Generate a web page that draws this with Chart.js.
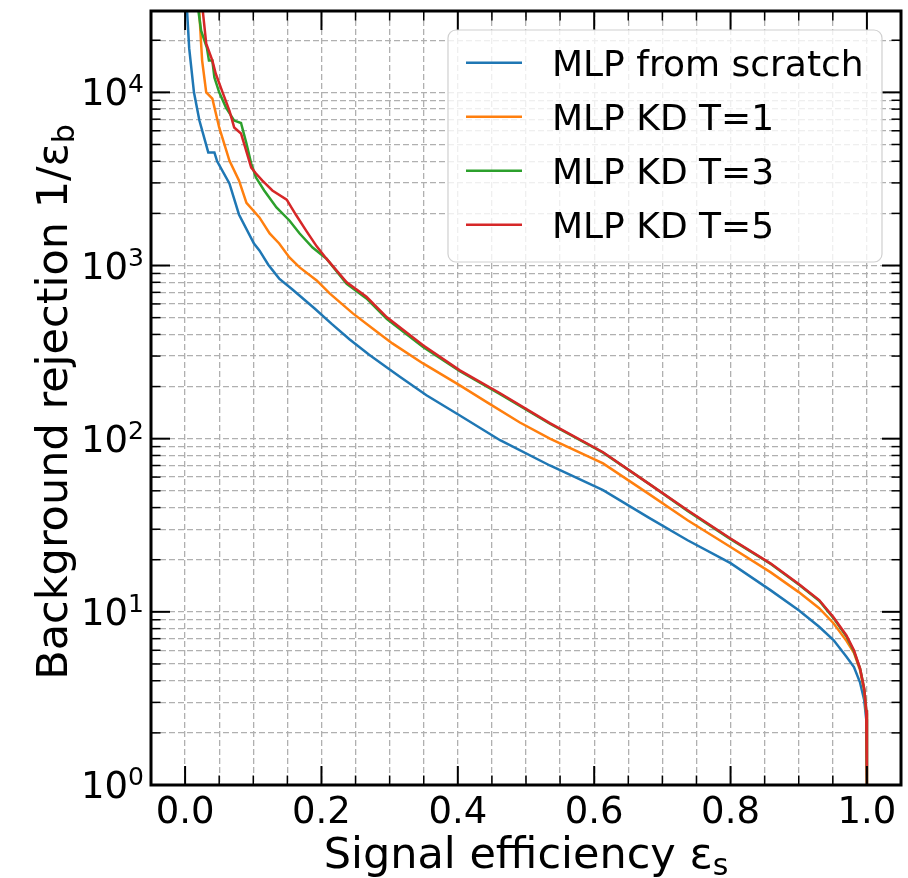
<!DOCTYPE html>
<html><head><meta charset="utf-8">
<script src="https://cdn.jsdelivr.net/npm/chart.js@4.4.1/dist/chart.umd.min.js"></script>
<style>html,body{margin:0;padding:0;background:#fff;}</style>
</head><body>
<canvas id="c" width="908" height="878"></canvas>
<script>
// ---- data ----
const seriesLabels = ["MLP from scratch", "MLP KD T=1", "MLP KD T=3", "MLP KD T=5"];
const seriesColors = ["#1f77b4", "#ff7f0e", "#2ca02c", "#d62728"];

const blueX = [0.001, 0.006, 0.013, 0.021, 0.034, 0.043, 0.047, 0.065, 0.079, 0.101, 0.109, 0.122, 0.138, 0.157, 0.19, 0.215, 0.241, 0.27, 0.296, 0.315, 0.354, 0.403, 0.462, 0.535, 0.613, 0.68, 0.737, 0.80, 0.859, 0.9, 0.93, 0.951, 0.97, 0.981, 0.99, 0.996, 0.999, 1.0];
const blueY = [40000, 18000, 10000, 6870, 4500, 4500, 4000, 2980, 1972, 1341, 1222, 1010, 840, 730, 565, 460, 375, 305, 258, 228, 178, 136, 98, 70, 50.4, 35, 25.9, 19.1, 13.3, 10.2, 8.2, 6.87, 5.5, 4.8, 3.9, 3.1, 2.4, 1];

const orangeX = [0.019, 0.0235, 0.025, 0.031, 0.04, 0.05, 0.065, 0.079, 0.09, 0.109, 0.124, 0.138, 0.153, 0.168, 0.193, 0.212, 0.246, 0.275, 0.304, 0.349, 0.403, 0.443, 0.491, 0.535, 0.613, 0.68, 0.737, 0.80, 0.859, 0.9, 0.93, 0.951, 0.97, 0.981, 0.99, 0.996, 0.999, 1.0];
const orangeY = [40000, 19100, 15250, 10000, 9200, 6270, 4040, 3100, 2300, 1896, 1531, 1341, 1114, 975, 820, 690, 529, 433, 355, 272, 203, 162, 124, 100, 72, 48, 33.8, 23.7, 16.9, 13.0, 10.5, 8.6, 6.8, 5.8, 4.6, 3.5, 2.6, 1];

const greenX = [0.017, 0.0235, 0.032, 0.035, 0.04, 0.043, 0.05, 0.06, 0.072, 0.082, 0.09, 0.097, 0.104, 0.116, 0.134, 0.153, 0.168, 0.187, 0.207, 0.237, 0.266, 0.296, 0.349, 0.403, 0.462, 0.535, 0.613, 0.68, 0.737, 0.80, 0.859, 0.9, 0.93, 0.951, 0.97, 0.981, 0.99, 0.996, 0.999, 1.0];
const greenY = [35000, 22700, 18100, 15250, 15250, 12200, 10000, 8170, 6870, 6650, 5070, 3880, 3220, 2713, 2163, 1820, 1531, 1271, 1099, 785, 645, 490, 338, 245, 181, 122, 83, 55, 38.3, 26.3, 18.9, 14.4, 11.6, 9.2, 7.2, 5.9, 4.7, 3.6, 2.7, 1];

const redX = [0.024, 0.031, 0.04, 0.045, 0.055, 0.065, 0.072, 0.082, 0.097, 0.104, 0.113, 0.128, 0.149, 0.163, 0.178, 0.193, 0.207, 0.237, 0.266, 0.296, 0.349, 0.403, 0.462, 0.535, 0.613, 0.68, 0.737, 0.80, 0.859, 0.9, 0.93, 0.951, 0.97, 0.981, 0.99, 0.996, 0.999, 1.0];
const redY = [35000, 19100, 15250, 12800, 10000, 7850, 6270, 5790, 3680, 3400, 3100, 2713, 2400, 1950, 1580, 1290, 1099, 800, 660, 502, 346, 248, 183, 123, 83.5, 55, 38.6, 26.5, 19.0, 14.5, 11.7, 9.3, 7.3, 6.0, 4.7, 3.6, 2.7, 1];

// axis ticks
const xMajorTicks = [0.0, 0.2, 0.4, 0.6, 0.8, 1.0];
const xTickLabels = ["0.0", "0.2", "0.4", "0.6", "0.8", "1.0"];
const xMinorTicks = [0.05, 0.1, 0.15, 0.25, 0.3, 0.35, 0.45, 0.5, 0.55, 0.65, 0.7, 0.75, 0.85, 0.9, 0.95];
const yMajorTicks = [1, 10, 100, 1000, 10000];
const yTickExponents = ["0", "1", "2", "3", "4"];
const yMinorTicks = [2,3,4,5,6,7,8,9,20,30,40,50,60,70,80,90,200,300,400,500,600,700,800,900,2000,3000,4000,5000,6000,7000,8000,9000,20000];
const xLimits = [-0.05, 1.05];
const yLimits = [1, 29500];

// ---- build ----
const xs = [blueX, orangeX, greenX, redX];
const ys = [blueY, orangeY, greenY, redY];
const datasets = seriesLabels.map((lab, i) => ({
  label: lab,
  data: xs[i].map((x, j) => ({x: x, y: ys[i][j]})),
  borderColor: seriesColors[i],
  backgroundColor: seriesColors[i],
  borderWidth: 2.5,
  pointRadius: 0,
  tension: 0,
  fill: false,
  order: 4 - i
}));

const FONT = '"DejaVu Sans", sans-serif';
const allX = xMajorTicks.concat(xMinorTicks).sort((a,b)=>a-b);
const allY = yMajorTicks.concat(yMinorTicks).sort((a,b)=>a-b);

const decor = {
  id: 'decor',
  afterDraw(chart) {
    const ctx = chart.ctx;
    const a = chart.chartArea;
    const sx = chart.scales.x, sy = chart.scales.y;
    ctx.save();
    ctx.strokeStyle = '#000';
    const tick = (x1, y1, x2, y2, w) => { ctx.lineWidth = w; ctx.beginPath(); ctx.moveTo(x1, y1); ctx.lineTo(x2, y2); ctx.stroke(); };
    xMajorTicks.forEach(v => { const p = sx.getPixelForValue(v); tick(p, a.bottom, p, a.bottom - 19, 2); tick(p, a.top, p, a.top + 19, 2); });
    xMinorTicks.forEach(v => { const p = sx.getPixelForValue(v); tick(p, a.bottom, p, a.bottom - 9.5, 1.5); tick(p, a.top, p, a.top + 9.5, 1.5); });
    yMajorTicks.forEach(v => { const p = sy.getPixelForValue(v); tick(a.left, p, a.left + 19, p, 2); tick(a.right, p, a.right - 19, p, 2); });
    yMinorTicks.forEach(v => { const p = sy.getPixelForValue(v); tick(a.left, p, a.left + 9.5, p, 1.5); tick(a.right, p, a.right - 9.5, p, 1.5); });
    ctx.lineWidth = 3;
    ctx.strokeRect(a.left, a.top, a.right - a.left, a.bottom - a.top);

    // x tick labels
    ctx.fillStyle = '#000';
    ctx.font = '37px ' + FONT;
    ctx.textAlign = 'center';
    ctx.textBaseline = 'alphabetic';
    xMajorTicks.forEach((v, i) => ctx.fillText(xTickLabels[i], sx.getPixelForValue(v), a.bottom + 38));
    // y tick labels 10^n
    yMajorTicks.forEach((v, i) => {
      const p = sy.getPixelForValue(v);
      ctx.font = '25px ' + FONT;
      const we = ctx.measureText(yTickExponents[i]).width;
      ctx.textAlign = 'right';
      ctx.fillText(yTickExponents[i], 144, p);
      ctx.font = '37px ' + FONT;
      ctx.fillText('10', 144 - we, p + 13);
    });

    const measure = (main, sub, size) => {
      ctx.font = size + 'px ' + FONT;
      const w1 = ctx.measureText(main).width;
      ctx.font = Math.round(size * 0.7) + 'px ' + FONT;
      const w2 = ctx.measureText(sub).width;
      return [w1, w2];
    };
    const sz = 43;
    ctx.textAlign = 'left';
    // x axis title
    let [w1, w2] = measure('Signal efficiency ε', 's', sz);
    let x0 = (a.left + a.right) / 2 - (w1 + w2) / 2;
    ctx.font = sz + 'px ' + FONT;
    ctx.fillText('Signal efficiency ε', x0, 868);
    ctx.font = Math.round(sz * 0.7) + 'px ' + FONT;
    ctx.fillText('s', x0 + w1, 868 + 7);

    // y axis title (rotated)
    [w1, w2] = measure('Background rejection 1/ε', 'b', sz);
    ctx.save();
    ctx.translate(67, (a.top + a.bottom) / 2 + 4);
    ctx.rotate(-Math.PI / 2);
    x0 = -(w1 + w2) / 2;
    ctx.font = sz + 'px ' + FONT;
    ctx.fillText('Background rejection 1/ε', x0, 0);
    ctx.font = Math.round(sz * 0.7) + 'px ' + FONT;
    ctx.fillText('b', x0 + w1, 7);
    ctx.restore();

    // legend
    const lx = 448, ly = 30, lw = 434, lh = 232, r = 8;
    ctx.beginPath();
    ctx.moveTo(lx + r, ly);
    ctx.arcTo(lx + lw, ly, lx + lw, ly + lh, r);
    ctx.arcTo(lx + lw, ly + lh, lx, ly + lh, r);
    ctx.arcTo(lx, ly + lh, lx, ly, r);
    ctx.arcTo(lx, ly, lx + lw, ly, r);
    ctx.closePath();
    ctx.fillStyle = 'rgba(255,255,255,0.8)';
    ctx.fill();
    ctx.strokeStyle = '#d0d0d0';
    ctx.lineWidth = 1.2;
    ctx.stroke();
    chart.data.datasets.forEach((ds, i) => {
      const yy = 62.7 + i * 54;
      ctx.strokeStyle = ds.borderColor;
      ctx.lineWidth = 2.5;
      ctx.beginPath(); ctx.moveTo(466, yy); ctx.lineTo(522, yy); ctx.stroke();
      ctx.fillStyle = '#000';
      ctx.font = '36px ' + FONT;
      ctx.textAlign = 'left';
      ctx.fillText(ds.label, 552, yy + 13);
    });
    ctx.restore();
  }
};

new Chart(document.getElementById('c'), {
  type: 'line',
  data: { datasets: datasets },
  options: {
    responsive: false,
    animation: false,
    layout: { padding: { top: 11, right: 7, left: 0, bottom: 0 } },
    plugins: { legend: { display: false }, tooltip: { enabled: false } },
    scales: {
      x: {
        type: 'linear', min: xLimits[0], max: xLimits[1],
        afterBuildTicks: s => { s.ticks = allX.map(v => ({ value: v })); },
        ticks: { display: false },
        grid: { color: '#b0b0b0', lineWidth: 1.3, drawTicks: false },
        border: { display: false, dash: [6, 3] },
        afterFit: s => { s.height = 93; }
      },
      y: {
        type: 'logarithmic', min: yLimits[0], max: yLimits[1],
        afterBuildTicks: s => { s.ticks = allY.map(v => ({ value: v })); },
        ticks: { display: false },
        grid: { color: '#b0b0b0', lineWidth: 1.3, drawTicks: false },
        border: { display: false, dash: [6, 3] },
        afterFit: s => { s.width = 151; }
      }
    }
  },
  plugins: [decor]
});
</script>
</body></html>
